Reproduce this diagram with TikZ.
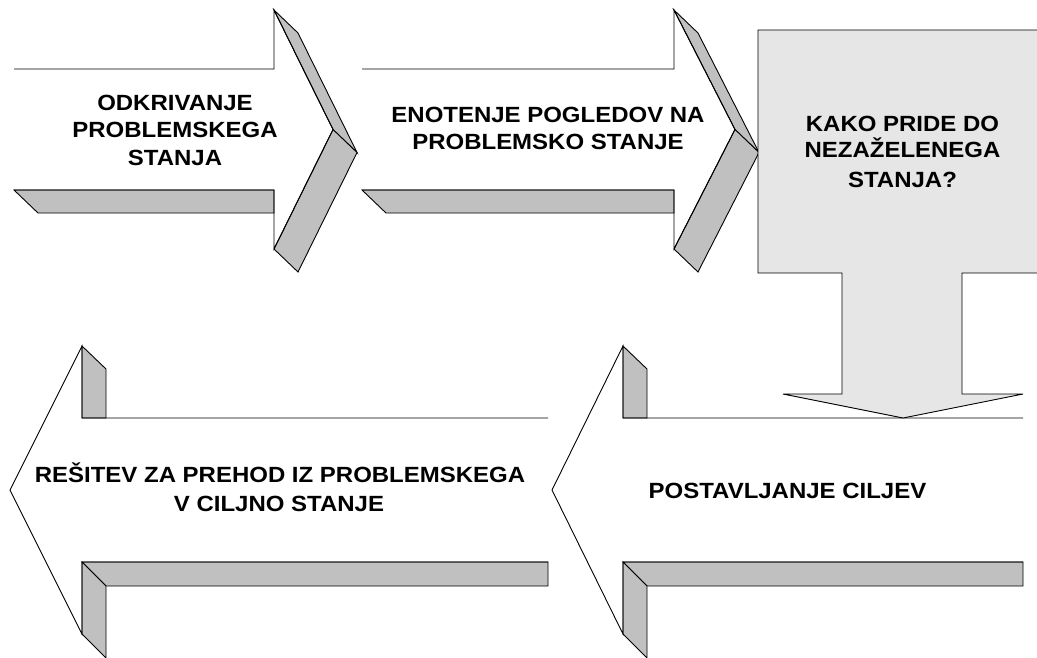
\documentclass[tikz,border=0pt]{standalone}
\usepackage{fontspec}
\newfontfamily\arrowfont{Liberation Sans Bold}[FakeStretch=1.09]
\definecolor{facegray}{HTML}{C0C0C0}
\definecolor{boxgray}{HTML}{E6E6E6}
\tikzset{
  edgeline/.style={draw=black, line width=0.9pt, line join=miter},
  sideface/.style={edgeline, fill=facegray},
  arrowtext/.style={font=\arrowfont\fontsize{22}{26}\selectfont, inner sep=0pt, anchor=base},
}
% Right-pointing block arrow with a bevelled lower/right side.
% #1 = tail x, #2 = x of the head step, #3 = tip x
\newcommand{\RightBlockArrow}[3]{%
  \fill[white] (#1,69) -- (#2,69) -- (#2,10) -- (#3,129.5) -- (#2,249) -- (#2,190) -- (#1,190) -- cycle;
  \draw[sideface] (#1,190) -- (#2,190) -- (#2,213) -- (#1+24,213) -- cycle;
  \draw[sideface] (#2,10) -- (#2+24,33) -- (#3+24,152.5) -- (#3,129.5) -- cycle;
  \draw[sideface] (#3,129.5) -- (#3+24,152.5) -- (#2+24,272) -- (#2,249) -- cycle;
  \draw[edgeline] (#1,69) -- (#2,69) -- (#2,10) -- (#3,129.5) -- (#2,249) -- (#2,190) -- (#1,190);
}
% Left-pointing block arrow with bevelled step faces.
% #1 = tip x, #2 = x of the head step, #3 = tail x
\newcommand{\LeftBlockArrow}[3]{%
  \fill[white] (#3,418) -- (#2,418) -- (#2,346) -- (#1,490) -- (#2,634) -- (#2,562) -- (#3,562) -- cycle;
  \draw[sideface] (#2,346) -- (#2+24,369) -- (#2+24,418) -- (#2,418) -- cycle;
  \draw[sideface] (#2,562) -- (#3,562) -- (#3,586) -- (#2+24,586) -- cycle;
  \draw[sideface] (#2,562) -- (#2+24,586) -- (#2+24,658) -- (#2,634) -- cycle;
  \draw[edgeline] (#3,418) -- (#2,418) -- (#2,346) -- (#1,490) -- (#2,634) -- (#2,562) -- (#3,562);
}
\begin{document}
\begin{tikzpicture}[x=1pt,y=-1pt]
\useasboundingbox (0,0) rectangle (1037,657);
\clip (0,0) rectangle (1037,657);
\fill[white] (0,0) rectangle (1037,657);

% top row: two arrows pointing right
\RightBlockArrow{14}{274}{333}
\RightBlockArrow{362}{674}{735}

% bottom row: two arrows pointing left
\LeftBlockArrow{10}{82}{548}
\LeftBlockArrow{552}{623}{1023}

% box with a downward arrow
\draw[edgeline, fill=boxgray] (842,273) -- (758,273) -- (758,30) -- (1046,30) -- (1046,273)
  -- (962,273) -- (962,394) -- (1023,394) -- (903,418) -- (783,394) -- (842,394) -- cycle;

% texts
\node[arrowtext] (odkr1) at (175,110) {ODKRIVANJE};
\node[arrowtext] (odkr2) at (175,137.5) {PROBLEMSKEGA};
\node[arrowtext] (odkr3) at (175,165) {STANJA};
\node[arrowtext] (enot1) at (548,122) {ENOTENJE POGLEDOV NA};
\node[arrowtext] (enot2) at (548,149) {PROBLEMSKO STANJE};
\node[arrowtext] (kako1) at (902.5,131) {KAKO PRIDE DO};
\node[arrowtext] (kako2) at (902.5,157) {NEZAŽELENEGA};
\node[arrowtext] (kako3) at (902.5,187) {STANJA?};
\node[arrowtext] (resi1) at (280,482) {REŠITEV ZA PREHOD IZ PROBLEMSKEGA};
\node[arrowtext] (resi2) at (279,511) {V CILJNO STANJE};
\node[arrowtext] (cilj) at (787.5,498) {POSTAVLJANJE CILJEV};
\end{tikzpicture}
\end{document}
